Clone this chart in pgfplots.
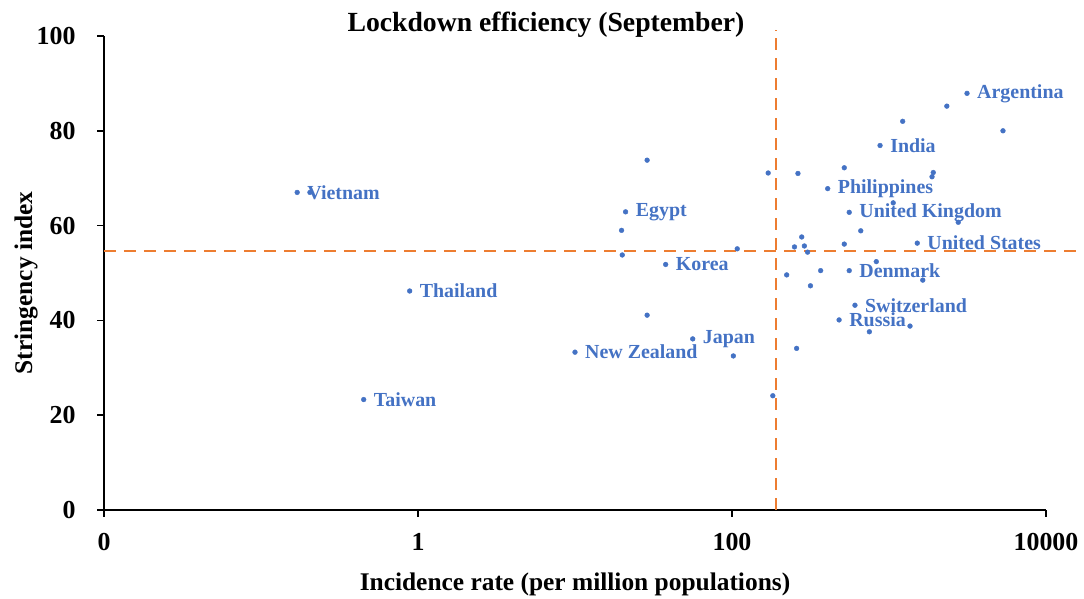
\documentclass[border=0pt]{standalone}
\usepackage{pgfplots}
\pgfplotsset{compat=1.18}
\usepackage{fontspec}
\setmainfont{Liberation Serif}
\definecolor{ptblue}{HTML}{4472C4}
\definecolor{lineorange}{HTML}{ED7D31}
\begin{document}
\begin{tikzpicture}
\path[use as bounding box] (-104bp,-89bp) rectangle (980bp,510bp);
\begin{axis}[
  at={(0,0)}, anchor=south west,
  width=942bp, height=474bp, scale only axis,
  xmode=log, xmin=0.01, xmax=10000, ymin=0, ymax=100,
  axis x line*=bottom, axis y line*=left,
  axis line style={line width=1.5bp, -},
  xtick={0.01,1,100,10000}, xticklabels={0,1,100,10000},
  xminorticks=false, yminorticks=false,
  ytick={0,20,40,60,80,100},
  tick align=outside, major tick length=7bp,
  tick style={black, line width=1.5bp},
  ticklabel style={font=\fontsize{26}{26}\selectfont\bfseries},
  xticklabel style={yshift=-13bp},
  yticklabel style={xshift=-18bp},
  /pgf/number format/assume math mode=true,
  xlabel={Incidence rate (per million populations)},
  ylabel={Stringency index},
  label style={font=\fontsize{25.5}{26}\selectfont\bfseries},
  xlabel style={at={(axis description cs:0.5,0)}, anchor=base, yshift=-80bp},
  ylabel style={at={(axis description cs:-0.0764,0.479)}, anchor=base, rotate=0},
  clip=false,
]
\addplot[only marks, mark=*, mark size=2.4bp, ptblue] table[col sep=comma] {
x,y
0.205,67.0
19.8,59.0
20.0,53.8
28.8,73.8
108,55.1
28.8,41.1
102,32.5
2335,85.2
1222,82.0
5321,80.0
170,71.1
263,71.0
519,72.2
1914,71.2
1880,70.3
1064,64.8
2761,60.7
661,58.9
278,57.6
250,55.5
289,55.7
303,54.4
519,56.1
830,52.4
223,49.6
367,50.5
1641,48.5
316,47.3
1361,38.8
750,37.6
258,34.1
182,24.1
};
\addplot[only marks, mark=*, mark size=2.4bp, ptblue,
  nodes near coords, point meta=explicit symbolic,
  nodes near coords style={anchor=west, font=\fontsize{20}{20}\selectfont\bfseries, text=ptblue, inner sep=0pt, xshift=10bp}]
  table[col sep=comma, meta=label] {
x,y,label
0.170,67.0,Vietnam
0.885,46.2,Thailand
0.451,23.3,Taiwan
10.0,33.3,New Zealand
21.0,62.9,Egypt
37.8,51.8,Korea
56.2,36.1,Japan
3140,87.9,Argentina
877,76.9,India
407,67.8,Philippines
558,62.8,United Kingdom
1514,56.3,United States
558,50.5,Denmark
607,43.2,Switzerland
481,40.1,Russia
};
\addplot[lineorange, line width=2bp, dash pattern=on 12bp off 8bp] coordinates {(0.01,54.7) (17450,54.7)};
\addplot[lineorange, line width=2bp, dash pattern=on 12bp off 8bp] coordinates {(190,0) (190,101.3)};
\end{axis}
\node[anchor=base, font=\fontsize{27.8}{28}\selectfont\bfseries] at (442bp,478bp) {Lockdown efficiency (September)};
\end{tikzpicture}
\end{document}
